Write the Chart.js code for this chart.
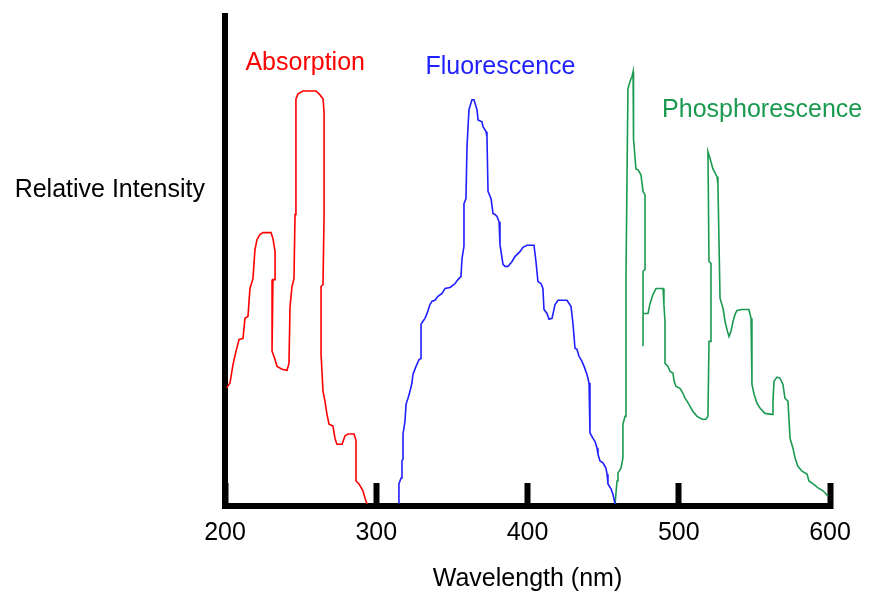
<!DOCTYPE html>
<html>
<head>
<meta charset="utf-8">
<script src="https://cdn.jsdelivr.net/npm/chart.js@4.4.1/dist/chart.umd.min.js"></script>
<style>
  html, body { margin: 0; padding: 0; background: #fff; }
  #wrap { width: 873px; height: 594px; }
</style>
</head>
<body>
<div id="wrap"><canvas id="spectra" width="873" height="594"></canvas></div>
<script>
// Wavelength (nm) / relative intensity
const absorptionNm = [201.1, 203.3, 205.3, 207.3, 209.3, 211.9, 213.2, 215.2, 216.5, 218.5, 219.8, 221.2, 223.1, 225.1, 230.4, 231.7, 233.1, 233.1, 231.7, 231.1, 233.1, 234.4, 237.7, 241.0, 242.3, 243.0, 244.3, 245.6, 246.3, 246.9, 248.3, 251.6, 260.2, 262.8, 264.8, 265.5, 265.5, 264.8, 263.5, 263.5, 264.8, 266.1, 267.4, 268.8, 271.4, 272.7, 274.0, 277.4, 279.3, 281.3, 285.3, 286.6, 286.6, 288.6, 291.2, 292.6, 293.9];
const absorptionIntensity = [24.1, 25.1, 28.9, 31.6, 34.0, 34.2, 38.3, 38.7, 44.4, 46.4, 52.3, 54.4, 55.4, 55.8, 55.8, 54.6, 51.9, 46.2, 46.2, 31.6, 29.9, 28.5, 27.9, 27.7, 29.1, 40.7, 44.8, 46.4, 59.5, 83.1, 84.1, 84.7, 84.7, 83.9, 83.1, 80.4, 59.5, 45.2, 44.8, 31.0, 23.4, 21.4, 18.7, 16.7, 16.3, 13.8, 12.6, 12.6, 14.3, 14.7, 14.7, 13.4, 5.1, 4.5, 3.1, 1.6, 0.4];

const fluorescenceNm = [314.6, 315.0, 316.4, 317.0, 317.7, 317.7, 319.0, 319.7, 321.0, 322.3, 323.6, 324.3, 326.3, 328.3, 329.6, 329.6, 330.9, 332.2, 333.6, 335.5, 336.9, 338.8, 340.8, 343.5, 345.5, 348.8, 352.1, 354.0, 356.0, 356.7, 358.0, 358.0, 359.3, 360.0, 361.3, 363.3, 364.6, 366.6, 367.3, 369.9, 370.6, 372.6, 373.2, 373.9, 375.9, 377.2, 378.5, 379.8, 381.2, 381.8, 383.8, 385.1, 387.1, 389.8, 391.7, 395.0, 397.0, 399.7, 404.3, 405.6, 406.9, 408.9, 410.2, 410.9, 412.9, 414.2, 416.2, 418.2, 420.2, 426.1, 428.8, 430.1, 431.4, 432.7, 434.0, 436.0, 437.4, 439.3, 440.7, 441.3, 443.3, 444.6, 446.0, 446.6, 447.9, 449.9, 451.9, 452.6, 453.2, 455.2, 456.5, 457.9];
const fluorescenceIntensity = [0.6, 4.5, 5.7, 9.2, 9.6, 14.7, 17.3, 20.8, 22.0, 23.4, 25.1, 26.9, 28.5, 29.9, 30.1, 37.1, 37.7, 38.3, 39.3, 41.1, 41.8, 42.0, 42.8, 43.4, 44.4, 44.6, 45.4, 46.2, 46.8, 50.5, 53.0, 61.7, 62.7, 73.3, 80.9, 82.9, 82.9, 80.9, 78.8, 78.4, 77.4, 76.4, 75.4, 64.2, 62.7, 59.7, 59.5, 59.1, 58.0, 53.4, 49.3, 48.9, 48.9, 49.9, 50.9, 51.9, 52.8, 53.2, 53.2, 49.9, 45.8, 45.4, 44.4, 40.1, 39.3, 38.1, 38.3, 41.1, 42.0, 42.0, 40.7, 37.1, 32.2, 32.0, 30.6, 29.5, 28.5, 26.9, 25.1, 14.9, 13.8, 13.2, 11.8, 10.6, 9.2, 8.8, 7.7, 6.5, 4.5, 3.5, 2.4, 0.4];

const phosphorescenceNm = [457.9, 459.2, 459.8, 461.8, 463.1, 463.1, 464.5, 465.1, 465.1, 466.4, 467.1, 468.4, 469.1, 469.8, 469.8, 470.4, 471.7, 473.1, 475.0, 476.4, 477.7, 477.7, 476.4, 476.4, 476.4, 478.3, 479.7, 481.0, 483.0, 485.0, 489.6, 490.2, 490.9, 490.9, 492.9, 494.2, 496.2, 496.9, 498.2, 500.8, 502.8, 504.1, 505.5, 507.4, 509.4, 512.1, 515.4, 518.0, 519.3, 520.0, 521.3, 521.3, 520.0, 519.3, 520.7, 522.6, 525.3, 525.9, 527.3, 529.3, 530.6, 531.9, 533.2, 534.5, 535.9, 537.2, 538.5, 541.8, 546.4, 547.8, 548.4, 549.8, 551.7, 553.7, 557.0, 561.7, 562.3, 563.0, 565.0, 566.9, 568.9, 570.2, 572.2, 573.6, 575.5, 576.9, 578.8, 581.5, 584.8, 586.1, 588.8, 592.1, 595.4, 598.7];
const phosphorescenceIntensity = [0.4, 5.1, 6.7, 7.7, 9.8, 16.7, 18.3, 18.7, 46.4, 85.1, 85.9, 87.2, 87.6, 88.6, 85.9, 74.9, 68.8, 68.6, 67.6, 64.2, 63.5, 48.3, 47.9, 32.6, 39.3, 39.3, 39.3, 41.3, 43.2, 44.4, 44.4, 41.1, 37.7, 29.1, 28.5, 27.5, 27.1, 25.5, 24.4, 24.0, 23.0, 22.0, 21.4, 20.4, 19.3, 18.3, 17.7, 17.7, 18.3, 33.6, 33.6, 49.5, 49.9, 72.3, 70.9, 68.8, 67.2, 65.8, 42.4, 40.3, 37.7, 36.0, 34.6, 35.6, 37.7, 39.1, 39.9, 40.1, 40.1, 38.3, 24.8, 22.8, 21.0, 20.0, 18.9, 18.7, 21.4, 25.5, 26.3, 26.1, 24.8, 22.0, 21.4, 13.8, 11.8, 9.8, 8.1, 7.1, 6.5, 5.1, 4.5, 3.7, 3.1, 2.0];

const xTicks = [200, 300, 400, 500, 600];

const FONT = "'Liberation Sans', Arial, Helvetica, sans-serif";

function toPoints(xs, ys) {
  return xs.map((x, i) => ({ x: x, y: ys[i] }));
}

function spectrum(label, xs, ys, color) {
  return {
    label: label,
    data: toPoints(xs, ys),
    borderColor: color,
    borderWidth: 1.6,
    pointRadius: 0,
    tension: 0,
    fill: false
  };
}

// where each series name sits, in data units
const captionSpots = [
  { nm: 213.5, intensity: 89.0 },
  { nm: 332.5, intensity: 88.2 },
  { nm: 489.0, intensity: 79.4 }
];

const captions = {
  id: "captions",
  afterDraw(chart) {
    const { ctx, chartArea, scales } = chart;
    ctx.save();
    ctx.font = "25px " + FONT;
    ctx.textBaseline = "alphabetic";
    ctx.textAlign = "left";
    chart.data.datasets.forEach((ds, i) => {
      const spot = captionSpots[i];
      ctx.fillStyle = ds.borderColor;
      ctx.fillText(ds.label, scales.x.getPixelForValue(spot.nm), scales.y.getPixelForValue(spot.intensity));
    });
    // horizontal y-axis caption to the left of the axis
    ctx.fillStyle = "#000";
    ctx.textAlign = "right";
    ctx.fillText("Relative Intensity", chartArea.left - 20, scales.y.getPixelForValue(63.1));
    ctx.restore();
  }
};

new Chart(document.getElementById("spectra"), {
  type: "line",
  data: {
    datasets: [
      spectrum("Absorption", absorptionNm, absorptionIntensity, "#ff0000"),
      spectrum("Fluorescence", fluorescenceNm, fluorescenceIntensity, "#1f1fff"),
      spectrum("Phosphorescence", phosphorescenceNm, phosphorescenceIntensity, "#1a9a50")
    ]
  },
  options: {
    responsive: false,
    animation: false,
    devicePixelRatio: 1,
    layout: { padding: { left: 225, right: 43, top: 16, bottom: 0 } },
    plugins: {
      legend: { display: false },
      tooltip: { enabled: false }
    },
    scales: {
      x: {
        type: "linear",
        min: 200,
        max: 600,
        afterBuildTicks: (axis) => { axis.ticks = xTicks.map(v => ({ value: v })); },
        grid: {
          display: true,
          drawOnChartArea: false,
          drawTicks: true,
          tickLength: -23,
          tickWidth: 6,
          tickColor: "#000"
        },
        border: { display: true, color: "#000", width: 6 },
        ticks: {
          padding: 20,
          color: "#000",
          font: { family: FONT, size: 25, lineHeight: 2.4 }
        },
        title: {
          display: true,
          text: "Wavelength (nm)",
          color: "#000",
          font: { family: FONT, size: 25 },
          padding: { top: -19, bottom: 0 }
        }
      },
      y: {
        type: "linear",
        min: 0,
        max: 100,
        grid: { display: false, drawTicks: false },
        border: { display: true, color: "#000", width: 6 },
        ticks: { display: false }
      }
    }
  },
  plugins: [captions]
});
</script>
</body>
</html>
